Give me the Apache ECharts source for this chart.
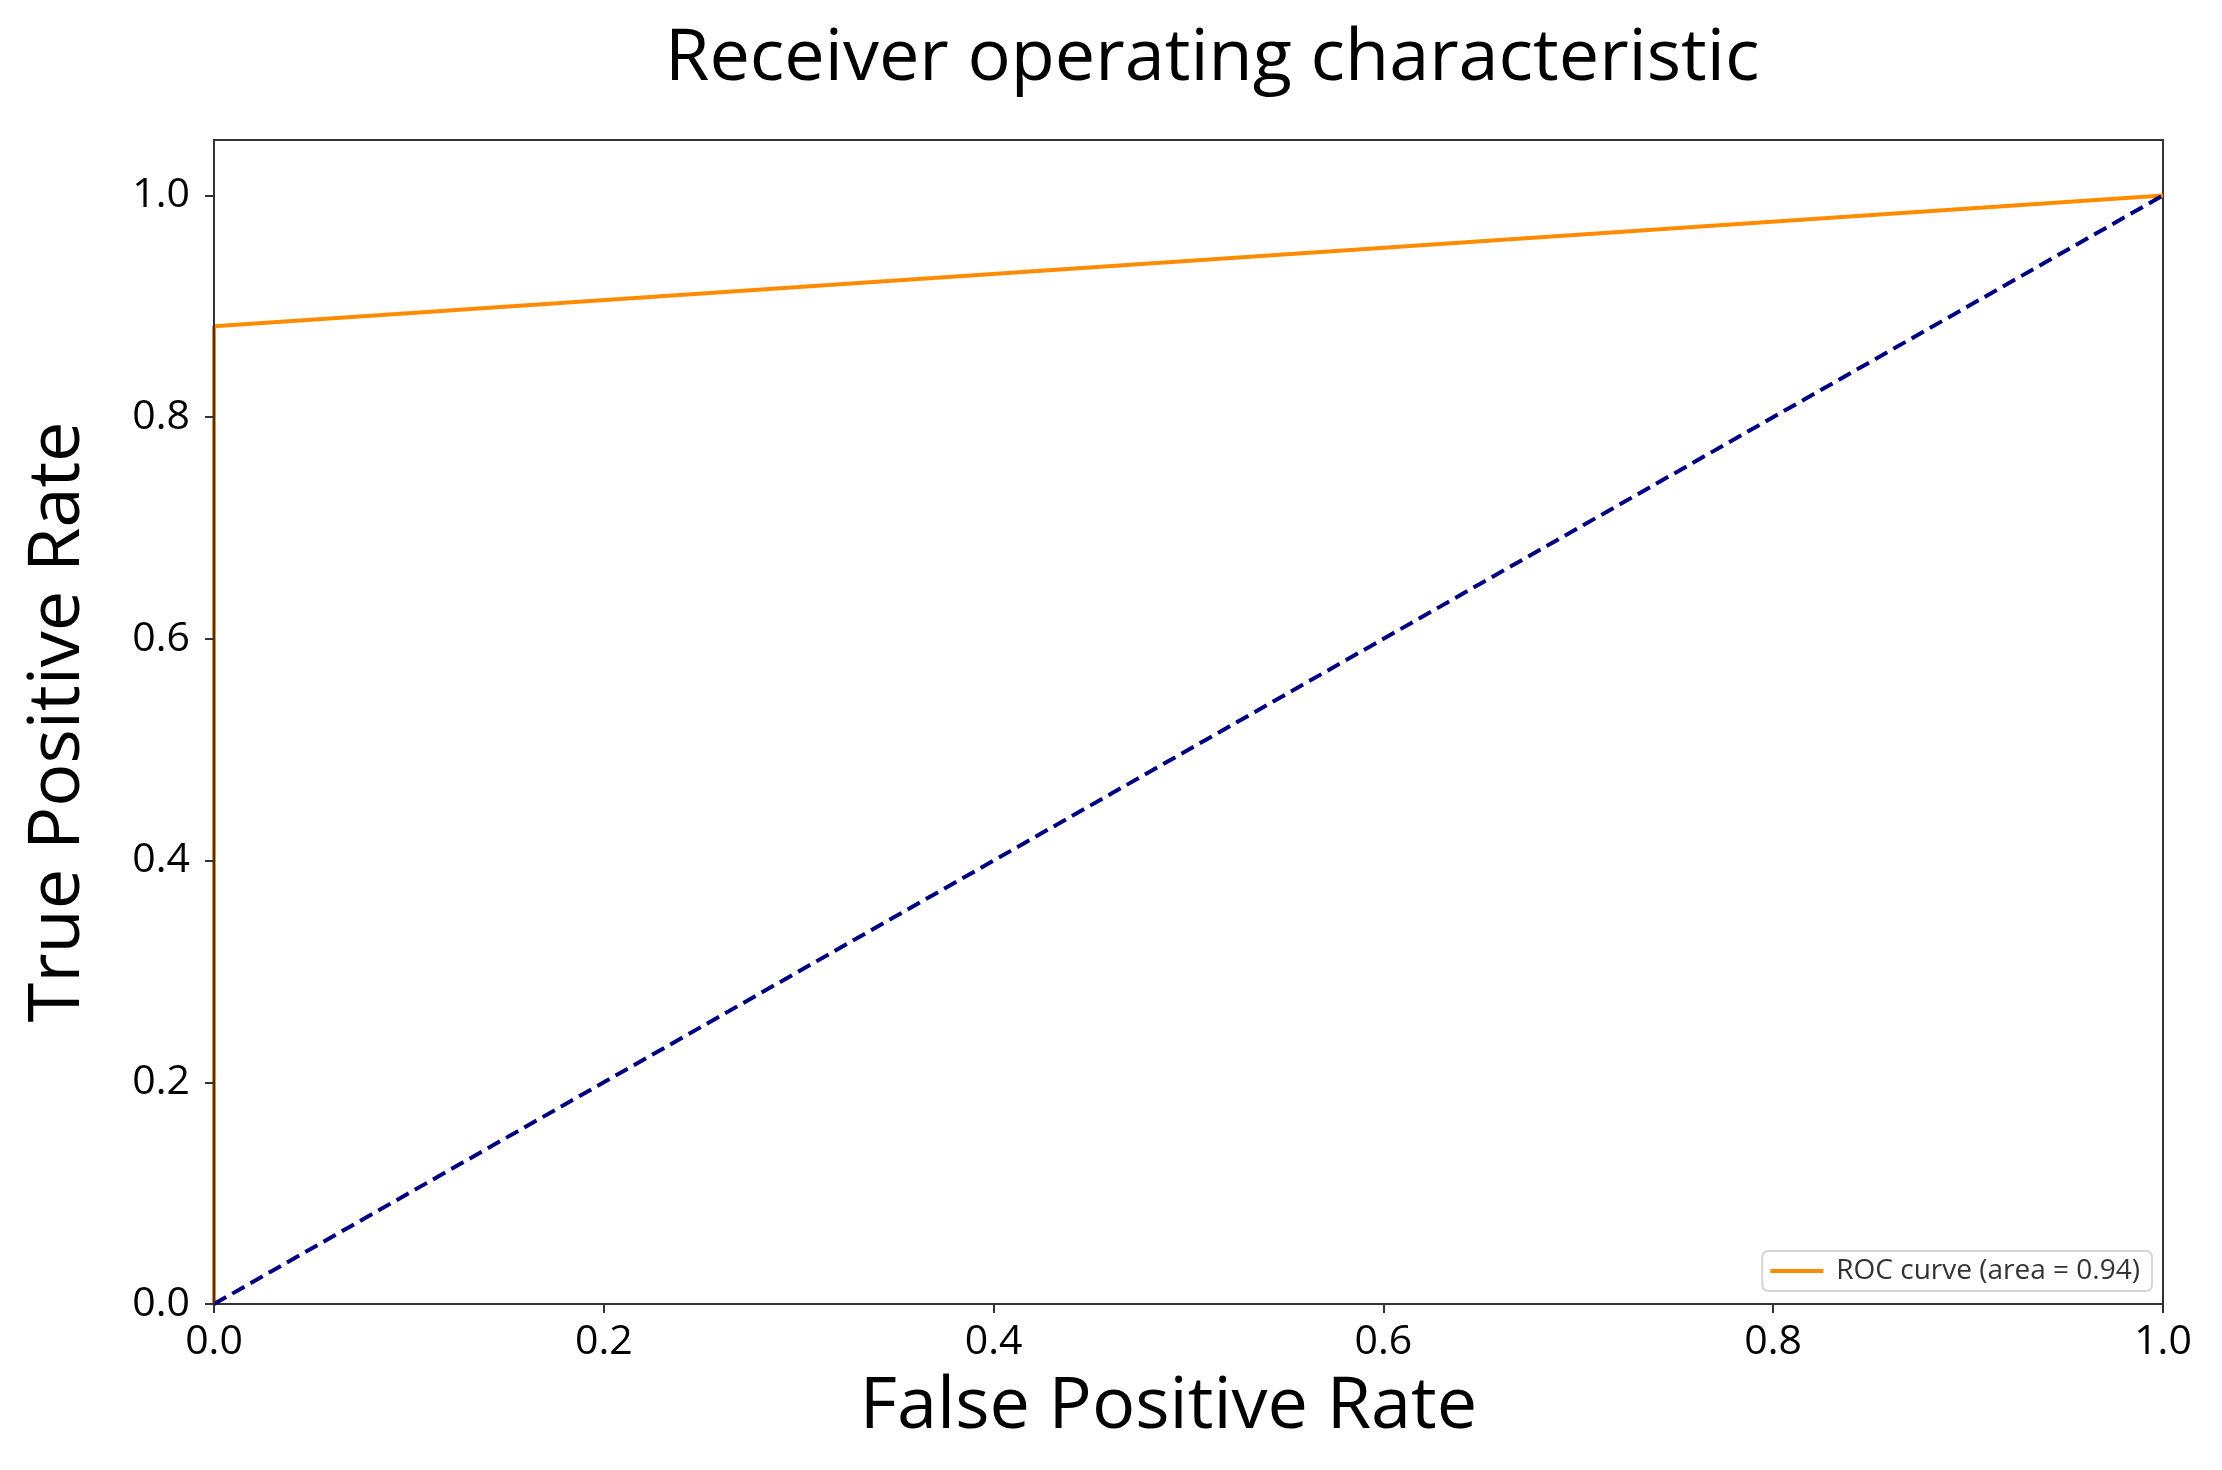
<!DOCTYPE html>
<html>
<head>
<meta charset="utf-8">
<script src="https://cdn.jsdelivr.net/npm/echarts@6/dist/echarts.min.js"></script>
<style>
html,body{margin:0;padding:0;background:#fff;}
#chart{width:2222px;height:1470px;}
</style>
</head>
<body>
<div id="chart"></div>
<script>
// ROC curve points
const fpr = [0.0, 0.0, 1.0];
const tpr = [0.0, 0.882, 1.0];
// chance diagonal
const chanceFpr = [0.0, 1.0];
const chanceTpr = [0.0, 1.0];
// tick labels
const xTicks = [0.0, 0.2, 0.4, 0.6, 0.8, 1.0];
const yTicks = [0.0, 0.2, 0.4, 0.6, 0.8, 1.0];
const rocLabel = 'ROC curve (area = 0.94)';
const titleText = 'Receiver operating characteristic';
const xName = 'False Positive Rate';
const yName = 'True Positive Rate';

const FONT = '"Open Sans", sans-serif';
const chart = echarts.init(document.getElementById('chart'), null, {renderer: 'canvas'});

const option = {
  backgroundColor: '#ffffff',
  animation: false,
  title: {
    text: titleText,
    left: 660,
    top: 18,
    textStyle: {fontFamily: FONT, fontSize: 72, fontWeight: 'normal', color: '#000'}
  },
  legend: {
    show: true,
    data: [{name: rocLabel, icon: 'rect'}],
    right: 70,
    bottom: 179,
    itemWidth: 53,
    itemHeight: 4,
    itemGap: 10,
    padding: [6, 12, 6, 8],
    backgroundColor: 'rgba(255,255,255,0.8)',
    borderColor: '#d6d6d6',
    borderWidth: 2,
    borderRadius: 6,
    textStyle: {fontFamily: FONT, fontSize: 28, color: '#333', padding: [0, 0, 0, 8]}
  },
  grid: {
    left: 214, right: 59, top: 140, bottom: 166,
    outerBoundsMode: 'none',
    show: true, borderColor: '#333', borderWidth: 2, containLabel: false
  },
  xAxis: {
    type: 'value', min: 0, max: 1, interval: 0.2,
    name: xName, nameLocation: 'middle', nameGap: 67,
    nameTextStyle: {fontFamily: FONT, fontSize: 72, color: '#000', padding: [0, 40, 0, 0]},
    axisLine: {show: true, lineStyle: {color: '#333', width: 2}},
    axisTick: {show: true, length: 9, inside: false, lineStyle: {color: '#333', width: 2}, customValues: xTicks},
    axisLabel: {show: true, margin: 18, fontFamily: FONT, fontSize: 41, color: '#000',
      customValues: xTicks, formatter: v => Number(v).toFixed(1)},
    splitLine: {show: false}
  },
  yAxis: {
    type: 'value', min: 0, max: 1.05, z: 10,
    name: yName, nameLocation: 'middle', nameGap: 120,
    nameTextStyle: {fontFamily: FONT, fontSize: 72, color: '#000'},
    axisLine: {show: true, lineStyle: {color: '#333', width: 2}},
    axisTick: {show: true, length: 9, inside: false, lineStyle: {color: '#333', width: 2}, customValues: yTicks},
    axisLabel: {show: true, margin: 24, fontFamily: FONT, fontSize: 41, color: '#000',
      customValues: yTicks, formatter: v => Number(v).toFixed(1)},
    splitLine: {show: false}
  },
  series: [
    {
      name: rocLabel, type: 'line',
      data: fpr.map((x, i) => [x, tpr[i]]),
      showSymbol: false, symbol: 'none',
      lineStyle: {color: '#ff8c00', width: 4},
      itemStyle: {color: '#ff8c00'},
      clip: true, z: 2
    },
    {
      name: 'chance', type: 'line',
      data: chanceFpr.map((x, i) => [x, chanceTpr[i]]),
      showSymbol: false, symbol: 'none',
      lineStyle: {color: '#000080', width: 4, type: [14, 7]},
      itemStyle: {color: '#000080'},
      clip: false, z: 3
    }
  ]
};
chart.setOption(option);
</script>
</body>
</html>
